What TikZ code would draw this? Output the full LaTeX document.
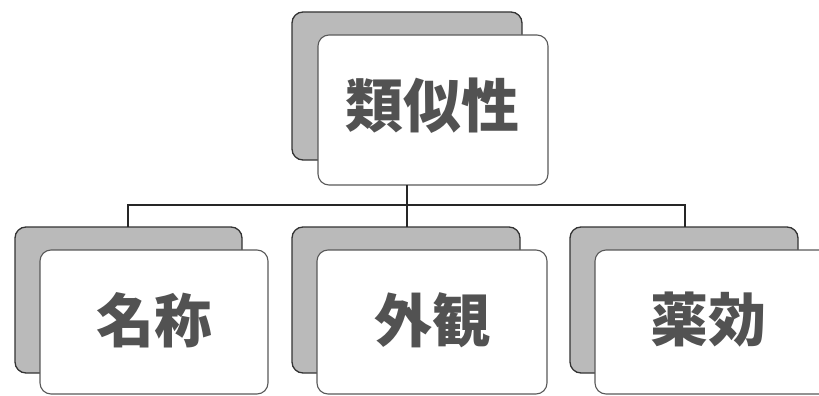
\documentclass[tikz,border=0pt]{standalone}
\usepackage{fontspec}
\newfontfamily\cjk{Noto Sans CJK JP}[BoldFont={Noto Sans CJK JP Black}]
\begin{document}
\begin{tikzpicture}[x=1pt,y=-1pt,
  backbox/.style={draw=black!80,line width=1.3pt,fill=black!27,rounded corners=11pt},
  frontbox/.style={draw=black!65,line width=1.1pt,fill=white,rounded corners=11pt},
  lbl/.style={font=\cjk\bfseries\fontsize{58}{60}\selectfont,text=black!68},
  conn/.style={draw=black!85,line width=1.3pt}]
\useasboundingbox (0,0) rectangle (819,396);
% top
\draw[backbox] (292,12) rectangle (522,160);
\draw[frontbox] (318,35) rectangle (548,185);
\node[lbl] (top) at (432,106) {類似性};
% bottom left
\draw[backbox] (15,227) rectangle (242,373);
\draw[frontbox] (40,250) rectangle (268,394);
\node[lbl] (a) at (154,320) {名称};
% bottom middle
\draw[backbox] (292,227) rectangle (520,373);
\draw[frontbox] (317,250) rectangle (547,394);
\node[lbl] (b) at (432,320) {外観};
% bottom right
\draw[backbox] (570,227) rectangle (798,373);
\draw[frontbox] (595,250) rectangle (830,394);
\node[lbl] (c) at (708,320) {薬効};
% connectors
\coordinate (topb) at (407,185);
\coordinate (j) at (407,205);
\coordinate (la) at (128,227);
\coordinate (lb) at (407,227);
\coordinate (lc) at (685,227);
\draw[conn] (topb) -- (j);
\draw[conn] (la) |- (j) -| (lc);
\draw[conn] (j) -- (lb);
\end{tikzpicture}
\end{document}
